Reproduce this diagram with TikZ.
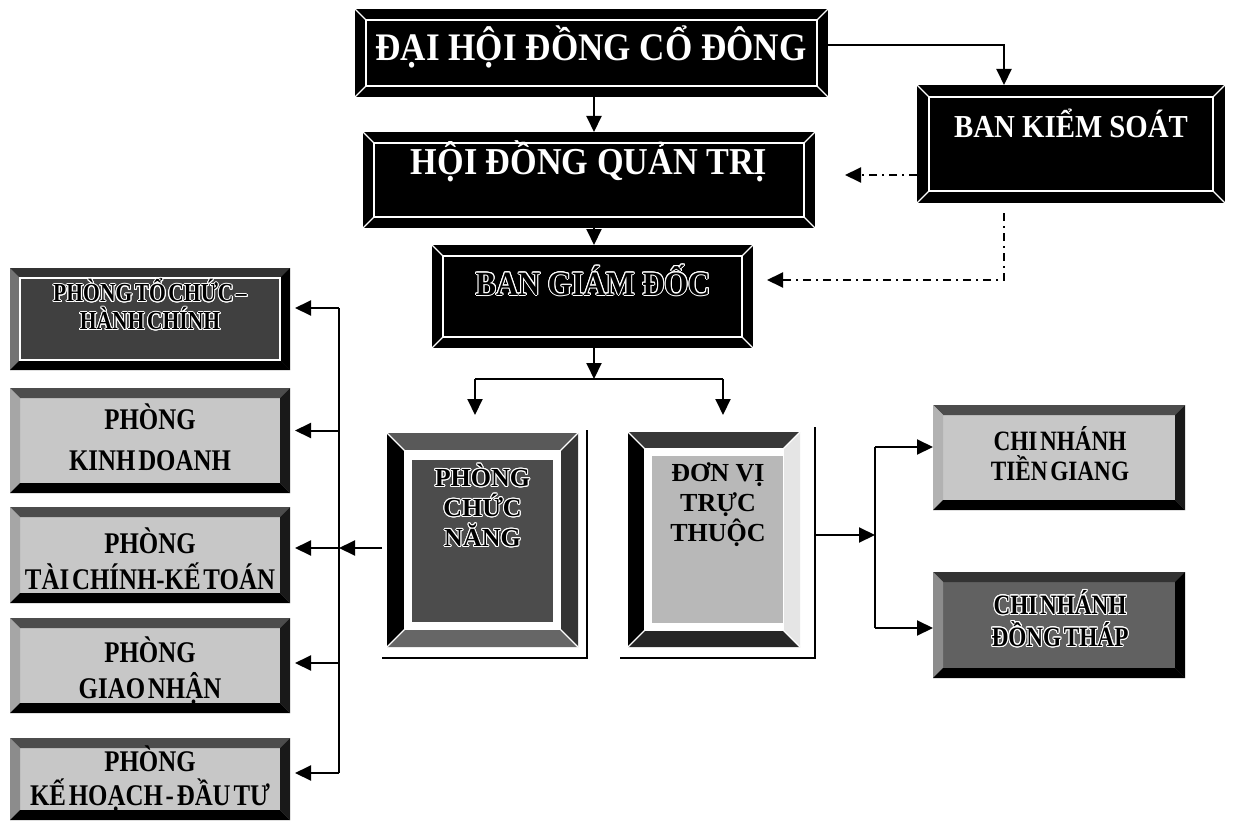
\documentclass[tikz,border=0pt]{standalone}
\usepackage{fontspec}
\setmainfont{Liberation Serif}
\newfontfamily\topfont[FakeStretch=0.9]{Liberation Serif}
\newfontfamily\boxfont[FakeStretch=0.83,WordSpace=0.45]{Liberation Serif}
\usepackage[copies]{contour}
\contourlength{1.0pt}
\usetikzlibrary{arrows.meta,calc}

% bevel: name, depth, top, left, right, bottom colours
\newcommand\mybevel[6]{%
  \fill[#3] (#1.north west) -- (#1.north east) -- ([shift={(-#2,#2)}]#1.north east) -- ([shift={(#2,#2)}]#1.north west) -- cycle;
  \fill[#4] (#1.north west) -- ([shift={(#2,#2)}]#1.north west) -- ([shift={(#2,-#2)}]#1.south west) -- (#1.south west) -- cycle;
  \fill[#5] (#1.north east) -- (#1.south east) -- ([shift={(-#2,-#2)}]#1.south east) -- ([shift={(-#2,#2)}]#1.north east) -- cycle;
  \fill[#6] (#1.south west) -- (#1.south east) -- ([shift={(-#2,-#2)}]#1.south east) -- ([shift={(#2,-#2)}]#1.south west) -- cycle;
}
% inner outline and corner lines
\newcommand\mybevlines[3]{%
  \draw[#3, line width=1.3pt] ([shift={(#2,#2)}]#1.north west) rectangle ([shift={(-#2,-#2)}]#1.south east);
  \draw[#3, line width=1.3pt] (#1.north west) -- ([shift={(#2,#2)}]#1.north west)
    (#1.north east) -- ([shift={(-#2,#2)}]#1.north east)
    (#1.south west) -- ([shift={(#2,-#2)}]#1.south west)
    (#1.south east) -- ([shift={(-#2,-#2)}]#1.south east);
}

\tikzset{
  box/.style={rectangle, inner sep=0pt, outer sep=0pt, draw=none},
  toptext/.style={text=white, anchor=base, inner sep=0pt},
  lefttext/.style={align=center, inner sep=0pt, font={\boxfont\bfseries\fontsize{30}{36}\selectfont}},
  righttext/.style={align=center, inner sep=0pt, font={\boxfont\bfseries\fontsize{28}{30}\selectfont}},
  midtext/.style={align=center, inner sep=0pt, font={\bfseries\fontsize{26}{30}\selectfont}},
  ln/.style={line width=2pt},
  arr/.style={line width=2pt, -{Triangle[length=16pt,width=15pt]}},
  dd/.style={line width=2pt, dash pattern=on 8pt off 5pt on 2pt off 5pt, -{Triangle[length=16pt,width=15pt]}},
}

\begin{document}
\begin{tikzpicture}[x=1pt,y=-1pt]
\fill[white] (0,0) rectangle (1233,829);
\path[use as bounding box] (0,0) rectangle (1233,829);

% ---------- top black boxes ----------
\node[box, fill=black, minimum width=473pt, minimum height=88pt] (dhd) at (591.5,53) {};
\mybevlines{dhd}{11}{white}
\node[toptext, font={\topfont\bfseries\fontsize{39}{40}\selectfont}] (dhdt) at (591,61) {ĐẠI HỘI ĐỒNG CỔ ĐÔNG};

\node[box, fill=black, minimum width=452pt, minimum height=96pt] (hdqt) at (589,180) {};
\mybevlines{hdqt}{11}{white}
\node[toptext, font={\topfont\bfseries\fontsize{38}{40}\selectfont}] (hdqtt) at (589,175) {HỘI ĐỒNG QUẢN TRỊ};

\node[box, fill=black, minimum width=308pt, minimum height=118pt] (bks) at (1071,144) {};
\mybevlines{bks}{12}{white}
\node[toptext, font={\topfont\bfseries\fontsize{32}{34}\selectfont}] (bkst) at (1071,137.6) {BAN KIỂM SOÁT};

\node[box, fill=black, minimum width=321pt, minimum height=103pt] (bgd) at (592.5,296.5) {};
\mybevlines{bgd}{11}{white}
\node[toptext, text=black, font={\topfont\bfseries\fontsize{34}{36}\selectfont}] (bgdt) at (593,295) {\contour{white}{BAN GIÁM ĐỐC}};

% ---------- left column ----------
\node[box, fill=black!75, minimum width=280pt, minimum height=102pt] (tochuc) at (150,319) {};
\mybevel{tochuc}{10}{black!80}{black!55}{black}{black}
\draw[white, line width=1.3pt] ([shift={(10,10)}]tochuc.north west) rectangle ([shift={(-10,-10)}]tochuc.south east);
\node[align=center, inner sep=0pt, font={\boxfont\bfseries\fontsize{26}{28}\selectfont}] (tochuct) at (150,305) {\contour{white}{PHÒNG TỔ CHỨC –}\\\contour{white}{HÀNH CHÍNH}};

\node[box, fill=black!22, minimum width=280pt, minimum height=105pt] (kinhdoanh) at (150,440.5) {};
\mybevel{kinhdoanh}{10}{black!70}{black!35}{black!90}{black}
\node[lefttext, font={\boxfont\bfseries\fontsize{30}{41}\selectfont}] (kinhdoanht) at (150,437) {PHÒNG\\KINH DOANH};

\node[box, fill=black!22, minimum width=280pt, minimum height=96pt] (taichinh) at (150,555) {};
\mybevel{taichinh}{10}{black!70}{black!35}{black!90}{black}
\node[lefttext] (taichinht) at (150,559) {PHÒNG\\TÀI CHÍNH-KẾ TOÁN};

\node[box, fill=black!22, minimum width=280pt, minimum height=95pt] (giaonhan) at (150,665.5) {};
\mybevel{giaonhan}{10}{black!70}{black!35}{black!90}{black}
\node[lefttext] (giaonhant) at (150,671) {PHÒNG\\GIAO NHẬN};

\node[box, fill=black!22, minimum width=280pt, minimum height=82pt] (kehoach) at (150,779) {};
\mybevel{kehoach}{10}{black!70}{black!45}{black!90}{black}
\node[lefttext, font={\boxfont\bfseries\fontsize{30}{34}\selectfont}] (kehoacht) at (150,779) {PHÒNG\\KẾ HOẠCH - ĐẦU TƯ};

% ---------- middle frames ----------
\node[box, fill=white, minimum width=205pt, minimum height=228pt] (pcnw) at (484.5,544) {};
\draw[line width=1.5pt] (pcnw.north east) -- (pcnw.south east) -- (pcnw.south west);
\node[box, fill=white, minimum width=191pt, minimum height=214pt] (pcnf) at (482.5,540) {};
\mybevel{pcnf}{18}{black!65}{black}{black!80}{black!60}
\mybevlines{pcnf}{18}{white}
\node[box, fill=black!70, minimum width=141pt, minimum height=162pt] (pcnp) at (482.5,541) {};
\node[midtext] (pcnt) at (482.5,506) {\contour{white}{PHÒNG}\\\contour{white}{CHỨC}\\\contour{white}{NĂNG}};

\node[box, fill=white, minimum width=195pt, minimum height=231pt] (dvttw) at (717.5,542.5) {};
\draw[line width=1.5pt] (dvttw.north east) -- (dvttw.south east) -- (dvttw.south west);
\node[box, fill=white, minimum width=172pt, minimum height=215pt] (dvttf) at (714,539.5) {};
\mybevel{dvttf}{17}{black!78}{black}{black!10}{black!85}
\mybevlines{dvttf}{17}{white}
\node[box, fill=black!28, minimum width=131pt, minimum height=167pt] (dvttp) at (717.5,539.5) {};
\node[midtext] (dvttt) at (718,505) {ĐƠN VỊ\\TRỰC\\THUỘC};

% ---------- right column ----------
\node[box, fill=black!22, minimum width=252pt, minimum height=105pt] (tiengiang) at (1059,457.5) {};
\mybevel{tiengiang}{10}{black!70}{black!30}{black!90}{black}
\node[righttext] (tiengiangt) at (1060,454) {CHI NHÁNH\\TIỀN GIANG};

\node[box, fill=black!62, minimum width=252pt, minimum height=106pt] (dongthap) at (1059,625) {};
\mybevel{dongthap}{10}{black!80}{black!45}{black}{black}
\node[righttext, font={\boxfont\bfseries\fontsize{28}{32}\selectfont}] (dongthapt) at (1060,619) {\contour{white}{CHI NHÁNH}\\\contour{white}{ĐỒNG THÁP}};

% ---------- connectors ----------
\coordinate (spine) at (594,0);
\coordinate (bksx) at (1004,0);
\coordinate (busL) at (339,0);
\coordinate (busR) at (875,0);

\draw[arr] (dhd.south -| spine) -- (hdqt.north -| spine);
\draw[arr] (hdqt.south -| spine) -- (bgd.north -| spine);
\draw[arr] ([yshift=8pt]dhd.east) -| (bks.north -| bksx);

\coordinate (hdqtgap) at ([xshift=30pt]hdqt.east);
\draw[dd] ([yshift=-31pt]bks.west) -- ([yshift=-31pt]bks.west -| hdqtgap);
\coordinate (bgdgap) at ([xshift=14pt,yshift=16.5pt]bgd.east);
\draw[dd] ([yshift=-10pt]bks.south -| bksx) -- (bksx |- bgdgap) -- (bgdgap);

\coordinate (junc) at (594,379);
\coordinate (jl) at (475,379);
\coordinate (jr) at (723,379);
\draw[arr] (bgd.south -| spine) -- (junc);
\draw[ln] (jl) -- (jr);
\draw[arr, shorten >=15pt] (jl) -- (jl |- pcnw.north);
\draw[arr, shorten >=12pt] (jr) -- (jr |- dvttw.north);

% left bus
\coordinate (aTC) at ([xshift=5pt,yshift=11pt]tochuc.east);
\coordinate (aKD) at ([xshift=5pt,yshift=10pt]kinhdoanh.east);
\coordinate (aTK) at ([xshift=5pt,yshift=7pt]taichinh.east);
\coordinate (aGN) at ([xshift=5pt,yshift=2.5pt]giaonhan.east);
\coordinate (aKH) at ([xshift=5pt,yshift=6pt]kehoach.east);
\draw[arr] ([yshift=-4pt]pcnw.west) -- ([yshift=-4pt]pcnw.west -| busL);
\draw[ln] (busL |- aTC) -- (busL |- aKH);
\draw[arr] (busL |- aTC) -- (aTC);
\draw[arr] (busL |- aKD) -- (aKD);
\draw[arr] (busL |- aTK) -- (aTK);
\draw[arr] (busL |- aGN) -- (aGN);
\draw[arr] (busL |- aKH) -- (aKH);

% right bus
\coordinate (aTG) at ([yshift=10.5pt]tiengiang.west);
\coordinate (aDT) at ([yshift=-3pt]dongthap.west);
\draw[arr] ([yshift=7.5pt]dvttw.east) -- ([yshift=7.5pt]dvttw.east -| busR);
\draw[ln] (busR |- aTG) -- (busR |- aDT);
\draw[arr] (busR |- aTG) -- (aTG);
\draw[arr] (busR |- aDT) -- (aDT);
\end{tikzpicture}
\end{document}
